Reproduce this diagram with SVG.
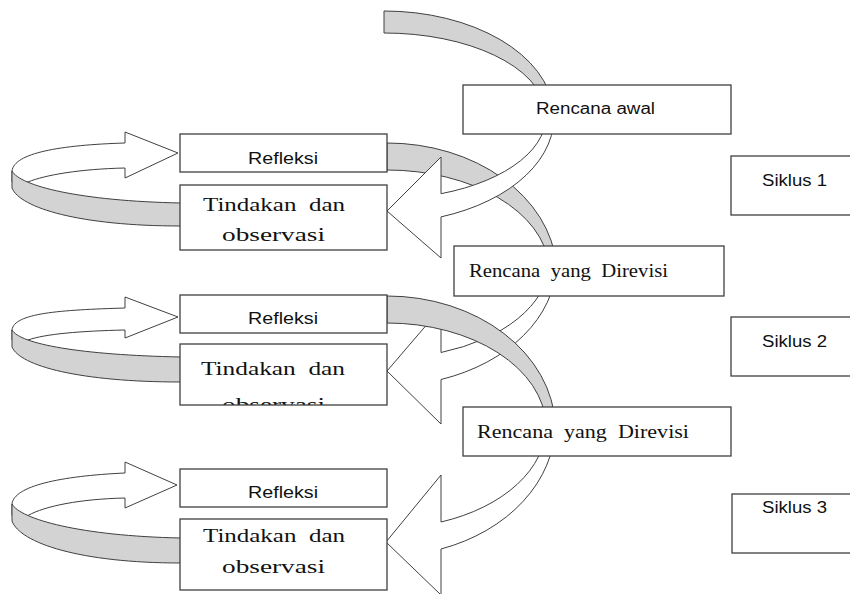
<svg xmlns="http://www.w3.org/2000/svg" width="850" height="594" viewBox="0 0 850 594">
<style>
.box{fill:#fff;stroke:#404040;stroke-width:1.3}
.g{fill:#d3d3d3;stroke:#404040;stroke-width:1}
.w{fill:#fff;stroke:#404040;stroke-width:1}
.sans{font-family:"Liberation Sans",Arial,sans-serif;font-size:16px;fill:#111}
.serif{font-family:"Liberation Serif","Times New Roman",serif;font-size:19px;fill:#111}
</style>
<defs>
<clipPath id="clipT2"><rect x="180" y="344" width="207" height="61"/></clipPath>
</defs>
<g id="connectors">
<path class="g" d="M384,11 A170,106 0 0 1 553.6,110 L545.6,110 A162,83 0 0 0 384,33 Z"/>
<path class="g" d="M387,143 A170,132 0 0 1 556.5,265 L549,265 A162.4,102 0 0 0 387,170 Z"/>
<path class="w" d="M545.6,110 A162,83 0 0 1 441,193.7 L441,157 L387,211 L441,258 L441,216.9 A170,106 0 0 0 553.6,110 Z"/>
<path class="w" d="M549,265 A162,96 0 0 1 441,352.5 L441,308 L387,371 L441,424 L441,379.5 A169.5,124 0 0 0 556.5,265 Z"/>
<path class="g" d="M387,296 A168.5,134 0 0 1 555.4,425 L546.1,425 A159.2,105 0 0 0 387,323 Z"/>
<path class="w" d="M546.1,425 A159.1,103 0 0 1 441,522 L441,475 L386,542 L441,595 L441,549 A168.4,133 0 0 0 555.4,425 Z"/>
<path class="w" d="M12,171 C14,153 60,145 125,143 L125,132 L178,153 L125,178 L125,168 C80,169 45,175 28,182 L12,182 Z"/>
<path class="g" d="M12,171 C20,186 80,201 181,203 L181,226 C80,226 20,208 12,188 Z"/>
<path class="w" d="M12,330 C14,313 60,310 125,308 L125,297 L178,317 L125,338 L125,330 C80,331 45,334 28,340 L12,340 Z"/>
<path class="g" d="M12,330 C20,344 80,355 181,357 L181,382 C80,382 20,366 12,347 Z"/>
<path class="w" d="M12,504 C14,486 60,476 125,473 L125,462 L177,485 L125,508 L125,498 C80,499 45,506 28,515.5 L12,515.5 Z"/>
<path class="g" d="M12,504 C20,519 80,536 181,538 L181,563 C80,563 20,543 12,521 Z"/>
</g>
<g id="rencana-awal"><rect class="box" x="463" y="85" width="268" height="49"/><text class="sans" x="536" y="114" textLength="119" lengthAdjust="spacingAndGlyphs">Rencana awal</text></g>
<g id="refleksi-1"><rect class="box" x="180" y="134" width="207" height="38"/><text class="sans" x="248" y="164" textLength="70" lengthAdjust="spacingAndGlyphs">Refleksi</text></g>
<g id="tindakan-1"><rect class="box" x="180" y="185" width="207" height="65"/><text class="serif" xml:space="preserve" x="203" y="211" textLength="142" lengthAdjust="spacingAndGlyphs">Tindakan  dan</text><text class="serif" x="222" y="241" textLength="103" lengthAdjust="spacingAndGlyphs">observasi</text></g>
<g id="rencana-direvisi-1"><rect class="box" x="454" y="246" width="270" height="50"/><text class="serif" xml:space="preserve" x="469" y="277" textLength="199" lengthAdjust="spacingAndGlyphs">Rencana  yang  Direvisi</text></g>
<g id="refleksi-2"><rect class="box" x="180" y="295" width="207" height="38"/><text class="sans" x="248" y="324" textLength="70" lengthAdjust="spacingAndGlyphs">Refleksi</text></g>
<g id="tindakan-2"><rect x="180" y="344" width="207" height="61" fill="#fff"/><g clip-path="url(#clipT2)"><text class="serif" xml:space="preserve" x="201" y="375" textLength="144" lengthAdjust="spacingAndGlyphs">Tindakan  dan</text><text class="serif" x="222" y="411" textLength="103" lengthAdjust="spacingAndGlyphs">observasi</text></g><rect x="180" y="344" width="207" height="61" fill="none" stroke="#404040" stroke-width="1.3"/></g>
<g id="rencana-direvisi-2"><rect class="box" x="463" y="407" width="268" height="49"/><text class="serif" xml:space="preserve" x="477" y="438" textLength="212" lengthAdjust="spacingAndGlyphs">Rencana  yang  Direvisi</text></g>
<g id="refleksi-3"><rect class="box" x="180" y="469" width="207" height="38"/><text class="sans" x="248" y="498" textLength="70" lengthAdjust="spacingAndGlyphs">Refleksi</text></g>
<g id="tindakan-3"><rect class="box" x="180" y="519" width="207" height="71"/><text class="serif" xml:space="preserve" x="203" y="542" textLength="142" lengthAdjust="spacingAndGlyphs">Tindakan  dan</text><text class="serif" x="222" y="573" textLength="103" lengthAdjust="spacingAndGlyphs">observasi</text></g>
<g id="siklus-1"><rect class="box" x="731" y="156" width="125" height="59"/><text class="sans" x="762" y="186" textLength="65" lengthAdjust="spacingAndGlyphs">Siklus 1</text></g>
<g id="siklus-2"><rect class="box" x="731" y="317" width="125" height="59"/><text class="sans" x="762" y="347" textLength="65" lengthAdjust="spacingAndGlyphs">Siklus 2</text></g>
<g id="siklus-3"><rect class="box" x="732" y="494" width="125" height="59"/><text class="sans" x="762" y="513" textLength="65" lengthAdjust="spacingAndGlyphs">Siklus 3</text></g>
</svg>
